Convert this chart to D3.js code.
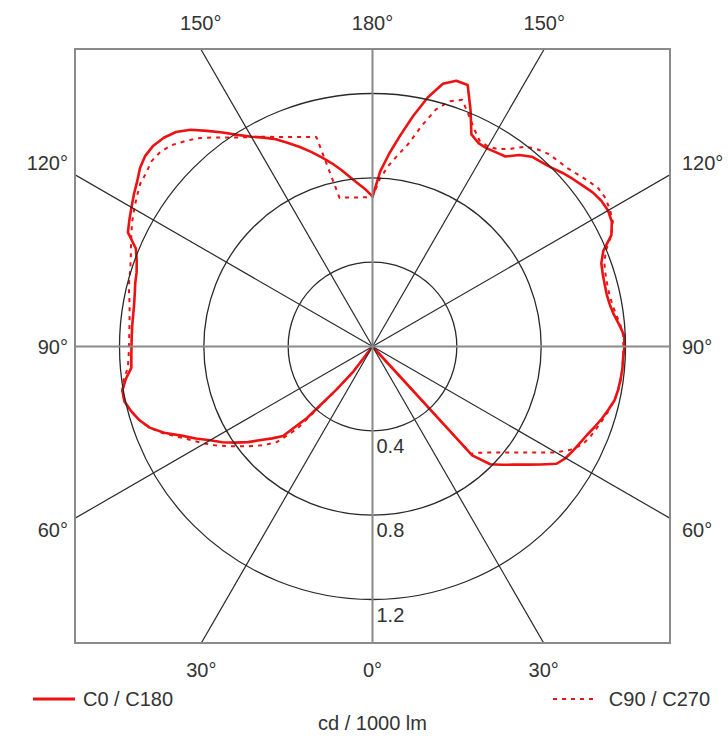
<!DOCTYPE html>
<html>
<head>
<meta charset="utf-8">
<script src="https://cdn.jsdelivr.net/npm/d3@7"></script>
<style>
  body { margin: 0; background: #fff; }
  svg { display: block; }
  text { font-family: "Liberation Sans", Arial, sans-serif; font-size: 20px; fill: #333; }
</style>
</head>
<body>
<svg id="chart" width="728" height="740"></svg>
<script>
// Gamma angles (degrees from nadir) at which intensities are sampled
const gamma = [
  0, 2.5, 5, 7.5, 10, 12.5, 15, 17.5, 20, 22.5, 25, 27.5, 30, 32.5, 35, 37.5,
  40, 42.5, 45, 47.5, 50, 52.5, 55, 57.5, 60, 62.5, 65, 67.5, 70, 72.5, 75, 77.5,
  80, 82.5, 85, 87.5, 90, 92.5, 95, 97.5, 100, 102.5, 105, 107.5, 110, 112.5, 115, 117.5,
  120, 122.5, 125, 127.5, 130, 132.5, 135, 137.5, 140, 142.5, 145, 147.5, 150, 152.5, 155, 157.5,
  160, 162.5, 165, 167.5, 170, 172.5, 175, 177.5, 180
];

// Luminous intensity, cd / 1000 lm, per C-plane
const c0 = [
  0, 0, 0, 0, 0, 0, 0, 0, 0, 0, 0, 0, 0, 0, 0, 0,
  0, 0.70, 0.79, 0.83, 0.872, 0.92, 0.976, 1.035, 1.058, 1.072, 1.085, 1.10, 1.12, 1.14, 1.158, 1.176,
  1.183, 1.187, 1.19, 1.19, 1.195, 1.195, 1.175, 1.155, 1.143, 1.138, 1.14, 1.145, 1.155, 1.185, 1.25, 1.28,
  1.29, 1.287, 1.275, 1.255, 1.238, 1.22, 1.20, 1.186, 1.175, 1.145, 1.10, 1.092, 1.085, 1.088, 1.11, 1.215,
  1.32, 1.322, 1.29, 1.21, 1.11, 1.01, 0.92, 0.83, 0.71
];
const c180 = [
  0, 0, 0, 0, 0, 0, 0, 0, 0, 0, 0, 0, 0, 0, 0, 0.155,
  0.27, 0.46, 0.60, 0.645, 0.69, 0.745, 0.795, 0.845, 0.89, 0.945, 1.00, 1.07, 1.125, 1.16, 1.185, 1.205,
  1.205, 1.18, 1.148, 1.145, 1.143, 1.143, 1.144, 1.145, 1.148, 1.155, 1.165, 1.173, 1.19, 1.215, 1.28, 1.30,
  1.32, 1.342, 1.363, 1.39, 1.407, 1.41, 1.40, 1.38, 1.342, 1.289, 1.239, 1.19, 1.149, 1.117, 1.085, 1.045,
  1.007, 0.968, 0.929, 0.89, 0.85, 0.81, 0.775, 0.745, 0.712
];
const c90 = [
  0, 0, 0, 0, 0, 0, 0, 0, 0, 0, 0, 0, 0, 0, 0, 0,
  0, 0.69, 0.712, 0.745, 0.782, 0.826, 0.877, 0.936, 1.005, 1.06, 1.10, 1.118, 1.132, 1.147, 1.162, 1.176,
  1.184, 1.188, 1.19, 1.19, 1.19, 1.19, 1.18, 1.165, 1.155, 1.15, 1.152, 1.158, 1.17, 1.20, 1.25, 1.285,
  1.30, 1.31, 1.308, 1.29, 1.27, 1.253, 1.245, 1.238, 1.22, 1.195, 1.145, 1.11, 1.095, 1.10, 1.14, 1.19,
  1.245, 1.22, 1.165, 1.07, 0.975, 0.915, 0.86, 0.795, 0.71
];
const c270 = [
  0, 0, 0, 0, 0, 0, 0, 0, 0, 0, 0, 0, 0, 0, 0, 0.155,
  0.28, 0.53, 0.64, 0.69, 0.735, 0.778, 0.825, 0.875, 0.92, 0.965, 1.015, 1.075, 1.125, 1.16, 1.185, 1.205,
  1.205, 1.19, 1.165, 1.158, 1.155, 1.155, 1.157, 1.162, 1.17, 1.183, 1.195, 1.205, 1.22, 1.24, 1.262, 1.285,
  1.305, 1.325, 1.345, 1.353, 1.368, 1.365, 1.35, 1.32, 1.29, 1.25, 1.21, 1.175, 1.148, 1.121, 1.097, 1.075,
  1.058, 1.042, 1.029, 0.722, 0.718, 0.713, 0.71, 0.708, 0.707
];

// Grid
const ringValues = [0.4, 0.8, 1.2];
const ringLabels = ["0.4", "0.8", "1.2"];
const spokeAngles = [30, 60, 120, 150];
const topLabels = [{ a: 150, t: "150°" }, { a: 180, t: "180°" }];
const bottomLabels = [{ a: 30, t: "30°" }, { a: 0, t: "0°" }];
const sideLabels = [{ a: 120, t: "120°" }, { a: 90, t: "90°" }, { a: 60, t: "60°" }];
const seriesNames = ["C0 / C180", "C90 / C270"];
const unitLabel = "cd / 1000 lm";

const RED = "#ee1111";
const frame = { x0: 75, y0: 49, x1: 670, y1: 643 };
const cx = 372.5, cy = 346.5;

const svg = d3.select("#chart");
const r = d3.scaleLinear().domain([0, 1.2]).range([0, 253]);
const rad = d => d * Math.PI / 180;

svg.append("defs").append("clipPath").attr("id", "frameClip")
  .append("rect")
  .attr("x", frame.x0).attr("y", frame.y0)
  .attr("width", frame.x1 - frame.x0).attr("height", frame.y1 - frame.y0);

const g = svg.append("g").attr("transform", `translate(${cx},${cy})`);
const grid = svg.append("g").attr("clip-path", "url(#frameClip)")
  .append("g").attr("transform", `translate(${cx},${cy})`);

// diagonal spokes on both sides (gamma measured from straight down)
const L = 700;
spokeAngles.forEach(a => {
  [1, -1].forEach(s => {
    grid.append("line")
      .attr("x1", 0).attr("y1", 0)
      .attr("x2", s * L * Math.sin(rad(a)))
      .attr("y2", L * Math.cos(rad(a)))
      .attr("stroke", "#2a2a2a").attr("stroke-width", 1.2);
  });
});

// rings
grid.selectAll("circle.ring").data(ringValues).join("circle")
  .attr("class", "ring")
  .attr("r", d => r(d))
  .attr("fill", "none").attr("stroke", "#2a2a2a").attr("stroke-width", 1.3);

// main axes
grid.append("line").attr("x1", -L).attr("x2", L).attr("y1", 0).attr("y2", 0)
  .attr("stroke", "#8a8a8a").attr("stroke-width", 2);
grid.append("line").attr("y1", -L).attr("y2", L).attr("x1", 0).attr("x2", 0)
  .attr("stroke", "#8a8a8a").attr("stroke-width", 2);

// frame
svg.append("rect")
  .attr("x", frame.x0).attr("y", frame.y0)
  .attr("width", frame.x1 - frame.x0).attr("height", frame.y1 - frame.y0)
  .attr("fill", "none").attr("stroke", "#8a8a8a").attr("stroke-width", 2);

// ring value labels
g.selectAll("text.ringlab").data(ringValues).join("text")
  .attr("class", "ringlab")
  .attr("x", 4).attr("y", d => r(d) + 15).attr("dy", "0.35em")
  .text((d, i) => ringLabels[i]);

// polar intensity curves: right half = first plane, left half = opposite plane
const radial = d3.lineRadial()
  .angle(d => d.angle)
  .radius(d => r(d.v))
  .curve(d3.curveLinear);

function closedCurve(right, left) {
  const pts = gamma.map((gm, i) => ({ angle: Math.PI - rad(gm), v: right[i] }));
  for (let i = gamma.length - 1; i >= 0; i--) {
    pts.push({ angle: Math.PI + rad(gamma[i]), v: left[i] });
  }
  return radial(pts);
}

g.append("path").attr("d", closedCurve(c90, c270))
  .attr("fill", "none").attr("stroke", RED).attr("stroke-width", 2)
  .attr("stroke-dasharray", "4,5").attr("stroke-linejoin", "round");
g.append("path").attr("d", closedCurve(c0, c180))
  .attr("fill", "none").attr("stroke", RED).attr("stroke-width", 2.6)
  .attr("stroke-linejoin", "round");

// angle labels
const tan = a => Math.tan(rad(a));
topLabels.forEach(d => {
  const dx = (cy - frame.y0) * Math.tan(rad(180 - d.a));
  [1, -1].forEach(s => {
    if (d.a === 180 && s === -1) return;
    svg.append("text").attr("x", cx + s * dx).attr("y", 23).attr("dy", "0.35em")
      .attr("text-anchor", "middle").text(d.t);
  });
});
bottomLabels.forEach(d => {
  const dx = (frame.y1 - cy) * tan(d.a);
  [1, -1].forEach(s => {
    if (d.a === 0 && s === -1) return;
    svg.append("text").attr("x", cx + s * dx).attr("y", 670).attr("dy", "0.35em")
      .attr("text-anchor", "middle").text(d.t);
  });
});
sideLabels.forEach(d => {
  const dy = d.a === 90 ? 0 : (cx - frame.x0) / tan(d.a);
  const y = cy + dy * 1.07;
  svg.append("text").attr("x", frame.x0 - 7).attr("y", y).attr("dy", "0.35em")
    .attr("text-anchor", "end").text(d.t);
  svg.append("text").attr("x", frame.x1 + 12).attr("y", y).attr("dy", "0.35em")
    .attr("text-anchor", "start").text(d.t);
});

// legend
svg.append("line").attr("x1", 33).attr("x2", 75).attr("y1", 699).attr("y2", 699)
  .attr("stroke", RED).attr("stroke-width", 3);
svg.append("text").attr("x", 83).attr("y", 699).attr("dy", "0.35em").text(seriesNames[0]);
svg.append("line").attr("x1", 553).attr("x2", 596).attr("y1", 699).attr("y2", 699)
  .attr("stroke", RED).attr("stroke-width", 2).attr("stroke-dasharray", "4,5");
svg.append("text").attr("x", 710).attr("y", 699).attr("dy", "0.35em")
  .attr("text-anchor", "end").text(seriesNames[1]);
svg.append("text").attr("x", cx).attr("y", 723).attr("dy", "0.35em")
  .attr("text-anchor", "middle").text(unitLabel);
</script>
</body>
</html>
